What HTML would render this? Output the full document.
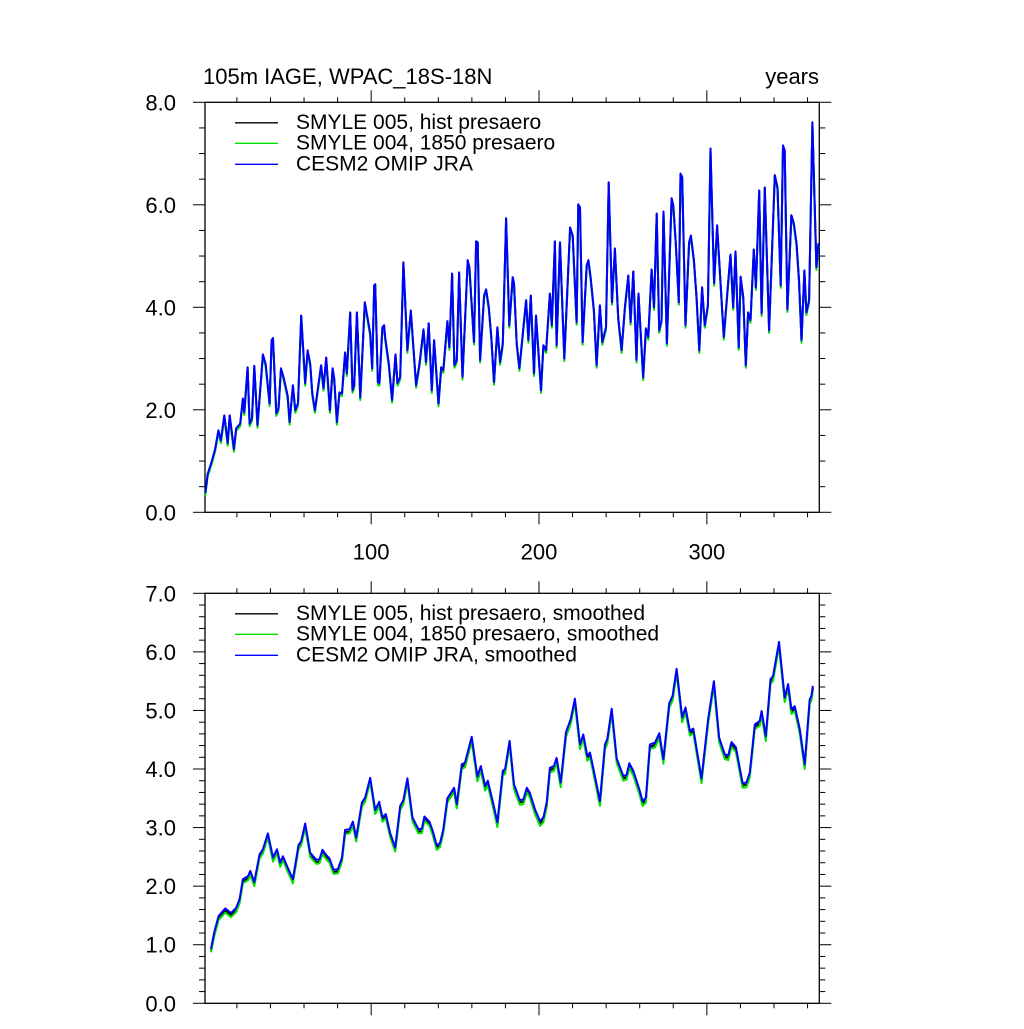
<!DOCTYPE html>
<html><head><meta charset="utf-8"><style>
html,body{margin:0;padding:0;background:#fff}
svg text{font-family:"Liberation Sans",sans-serif;fill:#000}
</style></head><body>
<svg id="chart" width="1024" height="1024" viewBox="0 0 1024 1024" xmlns="http://www.w3.org/2000/svg">
<rect width="1024" height="1024" fill="#fff"/>
<text x="203" y="84" font-size="22">105m IAGE, WPAC_18S-18N</text>
<text x="819" y="84" font-size="22" text-anchor="end">years</text>
<g id="top"></g>
<g id="bot"></g>
</svg>
<script>
const topX=[1.2,2.6,5.2,7.1,9,10.5,12.5,14.5,15.7,18.2,19.6,22,23.6,24.4,26.4,27.6,29,30.4,32.3,35.5,37.1,39.5,40.7,41.5,43.5,44.8,46.3,47.8,50.2,51.4,53.4,54.8,56.4,58.3,60.7,62.1,63.7,64.9,66.5,70.2,71.6,73.2,75.4,77,78,79.6,81.1,82.6,84.5,85.5,87.5,88.9,89.9,91.5,93.5,96.2,99.4,100.6,101.8,102.4,104,104.9,106.7,107.7,108.3,110.5,112.5,114.5,115.7,117.3,119.2,121.6,123.6,126.8,128.8,131.2,132.7,134.3,136.1,137.5,140.1,141.7,143,145.4,146.6,148.2,149.6,151,152.4,154.4,157.5,158.5,161.3,162.5,163.5,164.9,167.3,168.5,170.1,171.6,173.2,175.2,176.8,178.4,180.4,182.3,184.3,185.1,186.7,188.3,192.3,193.7,195.1,197,198.2,201.2,202.6,204.2,206.5,207.6,209.5,210.5,212.5,215.1,218.5,220.1,222.4,223.4,224.4,226,228.4,229.4,230.8,232.7,234.3,236.3,237.7,239.9,241.5,243.5,245.2,247.2,249.2,251.2,253.2,254.6,256.2,258.1,259.3,262.1,263.7,265.1,267.1,268.5,270.1,271.6,273,274.2,276.2,279,280,281.5,283.3,284.3,285.3,287.3,289.4,290.5,292.3,293.9,295.5,297.2,298.8,300.6,302.2,304.3,306.1,307.7,310.1,312.3,314.1,315.7,317.1,319,320.1,321.7,323.2,324.6,326,328,329.2,331.2,332.6,334.5,337.1,340.5,342.1,344,345.4,346.4,348,350.4,351.8,353.4,354.9,356.4,358.1,359.3,360.9,362.9,365.3,366.5];
const topCesm=[.37,.75,1.01,1.24,1.6,1.4,1.89,1.35,1.89,1.23,1.64,1.73,2.22,1.95,2.83,1.73,1.83,2.86,1.7,3.08,2.9,2.12,3.36,3.4,1.93,2.03,2.81,2.64,2.28,1.76,2.48,1.99,2.13,3.84,2.52,3.16,2.9,2.32,1.99,2.87,2.42,3.02,1.99,2.81,2.61,1.76,2.34,2.32,3.12,2.71,3.9,2.38,2.48,3.9,2.24,4.1,3.49,2.81,4.43,4.45,2.54,2.52,3.61,3.65,3.42,2.9,2.19,3.08,2.52,2.64,4.88,3.16,3.94,2.48,2.9,3.57,2.93,3.69,2.38,3.36,2.12,2.83,2.77,3.73,3.22,4.66,2.87,2.97,4.68,2.64,4.92,4.78,3.32,5.29,5.27,2.97,4.23,4.35,4.0,3.42,2.54,3.61,2.93,3.3,5.74,3.65,4.59,4.47,3.3,2.81,4.14,3.36,4.23,2.71,3.84,2.38,3.26,3.16,4.27,3.65,5.29,3.26,5.27,3.0,5.56,5.4,3.71,6.01,5.95,3.32,4.82,4.92,4.57,3.94,2.87,4.04,3.32,3.61,6.44,4.1,5.15,3.8,3.16,4.0,4.62,3.71,4.7,2.97,4.27,2.63,3.59,3.42,4.74,4.0,5.83,3.55,3.75,5.87,3.3,6.13,5.99,5.25,4.1,6.61,6.54,3.65,5.27,5.4,4.92,4.18,3.16,4.39,3.65,4.04,7.1,4.47,5.6,4.72,3.42,4.33,5.03,4.0,5.09,3.22,4.6,4.19,2.87,3.9,3.75,5.13,4.39,6.28,3.88,6.34,3.55,6.58,6.34,4.43,7.16,7.06,3.96,5.8,5.64,5.25,4.53,3.36,4.72,3.9,4.14,7.61,4.78,5.25];
const topHist=[.36,.74,1.0,1.23,1.59,1.39,1.88,1.34,1.88,1.22,1.63,1.72,2.21,1.94,2.82,1.72,1.82,2.85,1.69,3.07,2.89,2.11,3.35,3.39,1.92,2.02,2.8,2.63,2.27,1.75,2.47,1.98,2.12,3.83,2.51,3.15,2.89,2.31,1.98,2.86,2.41,3.01,1.98,2.8,2.6,1.75,2.33,2.31,3.11,2.7,3.89,2.37,2.47,3.89,2.23,4.09,3.48,2.8,4.42,4.44,2.53,2.51,3.6,3.64,3.41,2.89,2.18,3.07,2.51,2.63,4.87,3.15,3.93,2.47,2.89,3.56,2.92,3.68,2.37,3.35,2.11,2.82,2.76,3.72,3.21,4.65,2.86,2.96,4.67,2.63,4.91,4.77,3.31,5.28,5.26,2.96,4.22,4.34,3.99,3.41,2.53,3.6,2.92,3.29,5.73,3.64,4.58,4.46,3.29,2.8,4.13,3.35,4.22,2.7,3.83,2.37,3.25,3.15,4.26,3.64,5.28,3.25,5.26,2.99,5.55,5.39,3.7,6.0,5.94,3.31,4.81,4.91,4.56,3.93,2.86,4.03,3.31,3.6,6.43,4.09,5.14,3.79,3.15,3.99,4.61,3.7,4.69,2.96,4.26,2.62,3.58,3.41,4.73,3.99,5.82,3.54,3.74,5.86,3.29,6.12,5.98,5.24,4.09,6.6,6.53,3.64,5.26,5.39,4.91,4.17,3.15,4.38,3.64,4.03,7.09,4.46,5.59,4.71,3.41,4.32,5.02,3.99,5.08,3.21,4.59,4.18,2.86,3.89,3.74,5.12,4.38,6.27,3.87,6.33,3.54,6.57,6.33,4.42,7.15,7.05,3.95,5.79,5.63,5.24,4.52,3.35,4.71,3.89,4.13,7.6,4.77,5.24];
const top1850=[.32,.7,.96,1.19,1.55,1.35,1.84,1.3,1.84,1.18,1.59,1.68,2.17,1.9,2.78,1.68,1.78,2.81,1.65,3.03,2.85,2.07,3.31,3.35,1.88,1.98,2.76,2.59,2.23,1.71,2.43,1.94,2.08,3.79,2.47,3.11,2.85,2.27,1.94,2.82,2.37,2.97,1.94,2.76,2.56,1.71,2.29,2.27,3.07,2.66,3.85,2.33,2.43,3.85,2.19,4.05,3.44,2.76,4.38,4.4,2.49,2.47,3.56,3.6,3.37,2.85,2.14,3.03,2.47,2.59,4.83,3.11,3.89,2.43,2.85,3.52,2.88,3.64,2.33,3.31,2.07,2.78,2.72,3.68,3.17,4.61,2.82,2.92,4.63,2.59,4.87,4.73,3.27,5.24,5.22,2.92,4.18,4.3,3.95,3.37,2.49,3.56,2.88,3.25,5.69,3.6,4.54,4.42,3.25,2.76,4.09,3.31,4.18,2.66,3.79,2.33,3.21,3.11,4.22,3.6,5.24,3.21,5.22,2.95,5.51,5.35,3.66,5.96,5.9,3.27,4.77,4.87,4.52,3.89,2.82,3.99,3.27,3.56,6.39,4.05,5.1,3.75,3.11,3.95,4.57,3.66,4.65,2.92,4.22,2.58,3.54,3.37,4.69,3.95,5.78,3.5,3.7,5.82,3.25,6.08,5.94,5.2,4.05,6.56,6.49,3.6,5.22,5.35,4.87,4.13,3.11,4.34,3.6,3.99,7.05,4.42,5.55,4.67,3.37,4.28,4.98,3.95,5.04,3.17,4.55,4.14,2.82,3.85,3.7,5.08,4.34,6.23,3.83,6.29,3.5,6.53,6.29,4.38,7.11,7.01,3.91,5.75,5.59,5.2,4.48,3.31,4.67,3.85,4.09,7.56,4.73,5.2];

const botX=[4.6,6.5,9.1,13.1,16.5,19.6,21.6,23.6,26.6,28,30.4,33.5,35.5,38.5,41.5,43.9,45.8,47.4,50.2,53.4,56.7,58.3,60.7,63.7,67.3,69.2,71,73,75.2,77.6,80.2,82.6,84.5,87.1,89.1,91.1,94.5,96.4,99.4,102.4,104.8,106.7,108.7,111.3,114.3,117.3,119.2,121.6,124.6,128.2,130.2,131.7,134.7,136.7,139.1,141.1,143,145.4,149.4,151,154,155.9,159.9,163.3,165.3,167.9,169.5,172.8,175.2,178.4,179.8,182.5,185.1,188.5,190.7,192.7,194.6,197.6,200.6,202.6,204.6,206.5,208.9,210.5,212.9,216.1,218.9,221.4,224.4,226.4,228.8,230.4,233.3,236.3,239.3,240.7,243.3,246.3,250.2,252.2,253.8,256.2,259.8,261.7,263.7,266.1,269.1,271.7,274.1,277.6,279.6,282,285.3,287.3,289.9,291.9,296.8,300.8,304.2,307.3,310.7,312.7,314.7,317.3,321.3,323.6,325.6,328.6,331.5,332.6,335.1,337.9,339.5,343,346.4,348.4,350.4,352.4,355.4,358.3,361.3,362.3,363.2];
const botCesm=[.93,1.21,1.49,1.62,1.54,1.63,1.78,2.12,2.17,2.26,2.07,2.54,2.63,2.9,2.49,2.63,2.4,2.51,2.32,2.12,2.7,2.77,3.07,2.57,2.45,2.46,2.62,2.54,2.47,2.28,2.29,2.49,2.96,2.97,3.1,2.83,3.43,3.51,3.85,3.3,3.44,3.17,3.23,2.91,2.66,3.37,3.47,3.84,3.17,2.97,2.98,3.19,3.1,2.94,2.69,2.74,2.97,3.5,3.68,3.4,4.08,4.11,4.55,3.87,4.05,3.71,3.8,3.4,3.09,3.97,4.0,4.48,3.74,3.47,3.48,3.68,3.59,3.31,3.11,3.17,3.43,4.02,4.05,4.19,3.77,4.63,4.85,5.2,4.42,4.59,4.22,4.28,3.88,3.45,4.42,4.51,5.03,4.18,3.88,3.9,4.1,3.97,3.65,3.45,3.51,4.42,4.45,4.61,4.17,5.12,5.25,5.71,4.88,5.05,4.65,4.69,3.84,4.86,5.5,4.54,4.25,4.23,4.46,4.37,3.76,3.77,3.94,4.76,4.82,4.99,4.56,5.53,5.59,6.17,5.22,5.45,5.02,5.07,4.68,4.08,5.19,5.25,5.42];
const bot1850=[.87,1.14,1.42,1.55,1.47,1.56,1.71,2.05,2.1,2.19,2.0,2.47,2.56,2.83,2.42,2.56,2.33,2.44,2.25,2.05,2.63,2.7,3.0,2.5,2.38,2.39,2.55,2.47,2.4,2.21,2.22,2.42,2.89,2.9,3.03,2.76,3.36,3.44,3.78,3.23,3.37,3.1,3.16,2.84,2.59,3.3,3.4,3.77,3.1,2.9,2.91,3.12,3.03,2.87,2.62,2.67,2.9,3.43,3.61,3.33,4.0,4.03,4.47,3.79,3.97,3.63,3.72,3.32,3.01,3.89,3.92,4.4,3.66,3.39,3.4,3.6,3.51,3.23,3.03,3.09,3.35,3.94,3.97,4.11,3.69,4.55,4.77,5.12,4.34,4.51,4.14,4.2,3.8,3.37,4.34,4.43,4.95,4.1,3.8,3.82,4.02,3.89,3.57,3.37,3.43,4.34,4.37,4.53,4.09,5.04,5.17,5.63,4.8,4.97,4.57,4.61,3.76,4.78,5.42,4.46,4.17,4.15,4.38,4.29,3.68,3.69,3.86,4.68,4.74,4.91,4.48,5.45,5.51,6.09,5.14,5.37,4.94,4.99,4.6,4.0,5.11,5.17,5.34];
const botHist=[.9,1.17,1.45,1.58,1.5,1.59,1.74,2.08,2.13,2.22,2.03,2.5,2.59,2.86,2.45,2.59,2.36,2.47,2.28,2.08,2.66,2.73,3.03,2.53,2.41,2.42,2.58,2.5,2.43,2.24,2.25,2.45,2.92,2.93,3.06,2.79,3.39,3.47,3.81,3.26,3.4,3.13,3.19,2.87,2.62,3.33,3.43,3.8,3.13,2.93,2.94,3.15,3.06,2.9,2.65,2.7,2.93,3.46,3.64,3.36,4.04,4.07,4.51,3.83,4.01,3.67,3.76,3.36,3.05,3.93,3.96,4.44,3.7,3.43,3.44,3.64,3.55,3.27,3.07,3.13,3.39,3.98,4.01,4.15,3.73,4.59,4.81,5.16,4.38,4.55,4.18,4.24,3.84,3.41,4.38,4.47,4.99,4.14,3.84,3.86,4.06,3.93,3.61,3.41,3.47,4.38,4.41,4.57,4.13,5.08,5.21,5.67,4.84,5.01,4.61,4.65,3.8,4.82,5.46,4.5,4.21,4.19,4.42,4.33,3.72,3.73,3.9,4.72,4.78,4.95,4.52,5.49,5.55,6.13,5.18,5.41,4.98,5.03,4.64,4.04,5.15,5.21,5.38];

const xTickMajor=[100,200,300];
const topYTicks=[0,2,4,6,8];
const topYLabels=["0.0","2.0","4.0","6.0","8.0"];
const botYTicks=[0,1,2,3,4,5,6,7];
const botYLabels=["0.0","1.0","2.0","3.0","4.0","5.0","6.0","7.0"];
const topLegend=["SMYLE 005, hist presaero","SMYLE 004, 1850 presaero","CESM2 OMIP JRA"];
const botLegend=["SMYLE 005, hist presaero, smoothed","SMYLE 004, 1850 presaero, smoothed","CESM2 OMIP JRA, smoothed"];

const NS="http://www.w3.org/2000/svg";
const L=205,R=819.3,XMIN=1,XMAX=367;
const xs=v=>L+(v-XMIN)*(R-L)/(XMAX-XMIN);
function mk(tag,parent,attrs){const e=document.createElementNS(NS,tag);for(const k in attrs)e.setAttribute(k,attrs[k]);parent.appendChild(e);return e;}

function panel(g,top,bot,ymax,yTicks,yLabels,minorStep,series,legend,showXLabels,prefix){
  const ys=v=>bot-v*(bot-top)/ymax;
  const frame=mk('rect',g,{x:L,y:top,width:R-L,height:bot-top,fill:'none',stroke:'#000','stroke-width':1.3});
  
  
  for(let v=0;v<=ymax+1e-6;v+=minorStep){
    const y=ys(v);const major=yTicks.some(t=>Math.abs(t-v)<1e-6);const len=major?12:6;
    mk('line',g,{x1:L-len,x2:L,y1:y,y2:y,stroke:'#000','stroke-width':1});
    mk('line',g,{x1:R,x2:R+len,y1:y,y2:y,stroke:'#000','stroke-width':1});
  }
  yTicks.forEach((t,i)=>{
    const tx=mk('text',g,{x:176,y:ys(t)+8,'font-size':22,'text-anchor':'end'});
    tx.textContent=yLabels[i];
    
    
  });
  for(let v=20;v<=XMAX;v+=20){
    const x=xs(v);const major=xTickMajor.includes(v);const len=major?12:5;
    mk('line',g,{x1:x,x2:x,y1:bot,y2:bot+len,stroke:'#000','stroke-width':1});
    mk('line',g,{x1:x,x2:x,y1:top,y2:top-len,stroke:'#000','stroke-width':1});
  }
  if(showXLabels){
    xTickMajor.forEach(t=>{
      const tx=mk('text',g,{x:xs(t),y:bot+47,'font-size':22,'text-anchor':'middle'});
      tx.textContent=String(t);
      
      
    });
  }
  series.forEach(s=>{
    const n=Math.min(s.x.length,s.y.length);
    let d='';for(let i=0;i<n;i++)d+=(i?'L':'M')+xs(s.x[i]).toFixed(1)+','+ys(s.y[i]).toFixed(1);
    const p=mk('path',g,{d:d,fill:'none',stroke:s.c,'stroke-width':2,'stroke-linejoin':'round'});
    
    
  });
  const legCols=['#000','#00e000','#0000ff'];const offs=[20.5,41,62];
  legend.forEach((t,i)=>{
    const lg=mk('g',g,{});
    
    
    mk('line',lg,{x1:235,x2:278,y1:top+offs[i],y2:top+offs[i],stroke:legCols[i],'stroke-width':1.3});
    const tx=mk('text',lg,{x:296,y:top+offs[i]+6,'font-size':21});
    tx.textContent=t;
  });
}
panel(document.getElementById('top'),102.3,512.3,8,topYTicks,topYLabels,0.5,
 [{x:topX,y:topHist,c:'#000',n:'hist'},{x:topX,y:top1850,c:'#00e000',n:'1850'},{x:topX,y:topCesm,c:'#0000ff',n:'omip'}],
 topLegend,true,'top');
panel(document.getElementById('bot'),593.3,1003.3,7,botYTicks,botYLabels,0.2,
 [{x:botX,y:botHist,c:'#000',n:'hist'},{x:botX,y:bot1850,c:'#00e000',n:'1850'},{x:botX,y:botCesm,c:'#0000ff',n:'omip'}],
 botLegend,false,'bottom');
</script>
</body></html>
